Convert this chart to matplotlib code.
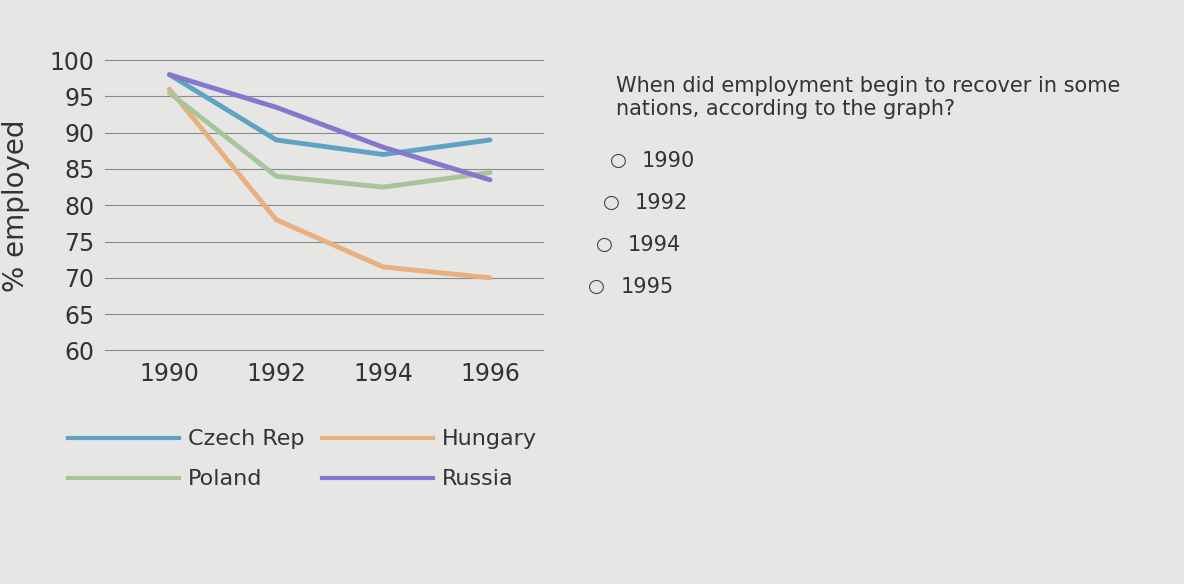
import matplotlib
matplotlib.use("Agg")
import matplotlib.pyplot as plt
from matplotlib.lines import Line2D

years = [1990, 1992, 1994, 1996]
czech = [98, 89, 87, 89]
hungary = [96, 78, 71.5, 70]
poland = [95.5, 84, 82.5, 84.5]
russia = [98, 93.5, 88, 83.5]
yticks = [60, 65, 70, 75, 80, 85, 90, 95, 100]
options = ["1990", "1992", "1994", "1995"]
question = "When did employment begin to recover in some\nnations, according to the graph?"

fig = plt.figure(figsize=(11.84, 5.84), dpi=100)
fig.patch.set_facecolor("#e6e6e4")
ax = fig.add_axes([0.089, 0.40, 0.37, 0.497])
ax.set_facecolor("#e6e6e4")
cols = {"Czech Rep": "#5fa3c4", "Hungary": "#e8b07e", "Poland": "#a8c49a", "Russia": "#8577cc"}
for name, vals in [("Czech Rep", czech), ("Hungary", hungary), ("Poland", poland), ("Russia", russia)]:
    ax.plot(years, vals, color=cols[name], lw=3.5, solid_capstyle="round")
ax.set_xlim(1988.8, 1997)
ax.set_ylim(60, 100)
ax.set_yticks(yticks)
ax.set_xticks(years)
ax.grid(axis="y", color="#8a8a8a", lw=0.8, clip_on=False)
for s in ax.spines.values():
    s.set_visible(False)
ax.tick_params(length=0, labelsize=17, colors="#333333", pad=8)
ax.set_ylabel("% employed", fontsize=20, color="#333333", labelpad=14)

order = ["Czech Rep", "Poland", "Hungary", "Russia"]
handles = [Line2D([], [], color=cols[n], lw=3) for n in order]
fig.legend(handles, order, loc="upper left", bbox_to_anchor=(0.05, 0.28), ncol=2,
           frameon=False, fontsize=16, handlelength=5, columnspacing=0.8,
           labelcolor="#333333", handletextpad=0.4, borderaxespad=0, labelspacing=0.9)
fig.text(0.52, 0.87, question, fontsize=15, color="#333333", va="top")
for i, o in enumerate(options):
    y = 0.725 - i * 0.072
    x = 0.515 - i * 0.006
    fig.text(x, y, "○", fontsize=14, color="#444444", va="center")
    fig.text(x + 0.027, y, o, fontsize=15, color="#333333", va="center")
fig.savefig("out.png", dpi=100, facecolor=fig.get_facecolor())
